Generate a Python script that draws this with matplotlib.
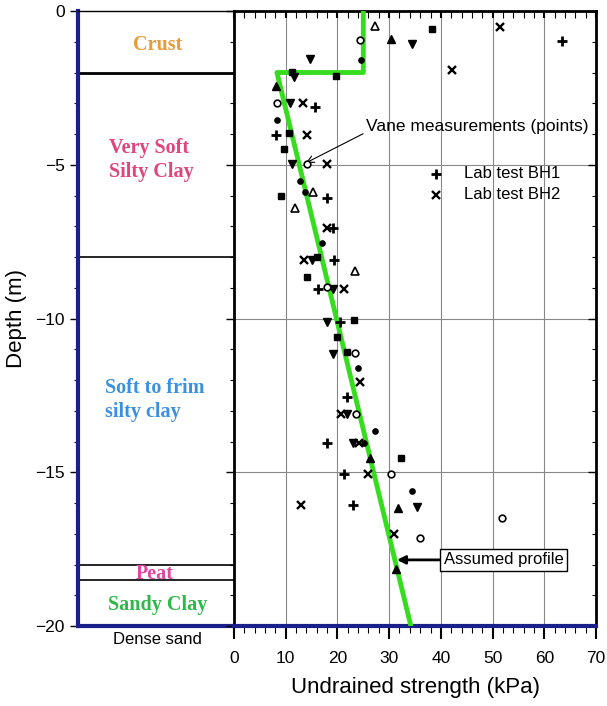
import matplotlib
matplotlib.use("Agg")
import matplotlib.pyplot as plt
from matplotlib.ticker import MultipleLocator

plt.rcParams['font.family'] = ['Liberation Sans', 'DejaVu Sans']

# assumed strength profile (kPa, depth m)
profile_su = [25, 25, 8.3, 34.2]
profile_z = [0, -2, -2, -20]

# lab tests
bh1_su = [63.4, 15.7, 8.1, 17.9, 19.2, 19.4, 16.3, 20.5, 21.9, 17.9, 21.3, 23.0]
bh1_z = [-0.99, -3.13, -4.03, -6.09, -7.06, -8.1, -9.05, -10.1, -12.56, -14.06, -15.07, -16.07]
bh2_su = [51.5, 42.2, 13.3, 14.2, 17.9, 18.0, 13.5, 21.3, 24.4, 20.7, 24.2, 25.9, 12.9, 31.0]
bh2_z = [-0.51, -1.93, -2.98, -4.03, -4.99, -7.05, -8.1, -9.05, -12.07, -13.1, -14.06, -15.07, -16.07, -17.02]

# vane measurements, by symbol
tri_up_su = [30.4, 8.1, 31.7, 31.3, 26.3]
tri_up_z = [-0.91, -2.44, -16.15, -18.16, -14.55]
tri_open_su = [27.2, 15.2, 11.7, 23.4]
tri_open_z = [-0.49, -5.89, -6.4, -8.44]
tri_dn_su = [34.4, 14.7, 11.6, 10.8, 11.2, 15.0, 19.2, 17.9, 19.2, 21.9, 23.1, 35.3]
tri_dn_z = [-1.08, -1.56, -2.15, -3.0, -4.99, -8.1, -9.05, -10.1, -11.16, -13.1, -14.06, -16.13]
circ_open_su = [24.4, 8.4, 14.1, 17.9, 23.4, 23.6, 30.4, 51.8, 36.0]
circ_open_z = [-0.94, -2.98, -4.97, -8.97, -11.12, -13.1, -15.07, -16.48, -17.15]
dot_su = [24.5, 8.4, 12.8, 13.7, 17.0, 24.0, 27.3, 25.1, 34.4]
dot_z = [-1.59, -3.54, -5.52, -5.9, -7.56, -11.6, -13.65, -14.06, -15.6]
sq_su = [38.2, 11.2, 19.7, 10.7, 9.7, 9.0, 16.1, 14.2, 23.2, 20.0, 21.8, 32.2]
sq_z = [-0.59, -1.97, -2.1, -3.96, -4.49, -6.0, -7.99, -8.66, -10.05, -10.59, -11.08, -14.55]

# soil layers
layer_bounds = [-2, -8, -18, -18.5]
layer_names = ["Crust", "Very Soft\nSilty Clay", "Soft to frim\nsilty clay", "Peat", "Sandy Clay"]
layer_mid = [-1.1, -4.85, -12.65, -18.3, -19.32]
layer_x = [0.51, 0.47, 0.49, 0.49, 0.51]
layer_colors = ["#E99A3B", "#E0457C", "#3C90E2", "#E0489C", "#2FB84A"]

navy = "#1a1f8c"
fig = plt.figure(figsize=(6.07, 7.06), dpi=100)
axL = fig.add_axes([0.1285, 0.1133, 0.257, 0.8711])
ax = fig.add_axes([0.3855, 0.1133, 0.5964, 0.8711], sharey=axL)

# ---- soil column ----
axL.set_xlim(0, 1)
axL.set_ylim(-20, 0)
for i, yb in enumerate(layer_bounds):
    axL.axhline(yb, color="black", lw=2.0 if i == 0 else 1.2)
for name, xm, ym, c in zip(layer_names, layer_x, layer_mid, layer_colors):
    axL.text(xm, ym, name, color=c, fontsize=14.5, fontweight="bold",
             family="Liberation Serif", ha="center", va="center",
             multialignment="left", linespacing=1.25)
axL.text(0.51, -20.45, "Dense sand", ha="center", va="center", fontsize=12)
axL.set_xticks([])
axL.spines["left"].set_color(navy)
axL.spines["left"].set_linewidth(3)
axL.spines["bottom"].set_color(navy)
axL.spines["bottom"].set_linewidth(3)
axL.spines["right"].set_visible(False)
axL.spines["top"].set_linewidth(1)
axL.yaxis.set_major_locator(MultipleLocator(5))
axL.yaxis.set_minor_locator(MultipleLocator(1))
axL.tick_params(axis="y", which="major", length=6, width=1, labelsize=12.5)
axL.tick_params(axis="y", which="minor", length=3, width=0.8)
axL.set_ylabel("Depth (m)", fontsize=16, labelpad=6)

# ---- strength plot ----
ax.set_xlim(0, 70)
ax.grid(True, color="#888888", lw=0.8)
ax.set_axisbelow(True)
ax.plot(profile_su, profile_z, color="#36DD1E", lw=3.5, zorder=3)

ms = 5.5
ax.plot(bh1_su, bh1_z, "+", color="black", ms=6.5, mew=2, ls="none", zorder=4)
ax.plot(bh2_su, bh2_z, "x", color="black", ms=ms, mew=1.7, ls="none", zorder=4)
ax.plot(tri_up_su, tri_up_z, "^", color="black", ms=ms, ls="none", zorder=4)
ax.plot(tri_open_su, tri_open_z, "^", mfc="white", mec="black", mew=1.2, ms=ms, ls="none", zorder=4)
ax.plot(tri_dn_su, tri_dn_z, "v", color="black", ms=ms, ls="none", zorder=4)
ax.plot(circ_open_su, circ_open_z, "o", mfc="white", mec="black", mew=1.2, ms=4.8, ls="none", zorder=4)
ax.plot(dot_su, dot_z, "o", color="black", ms=3.8, ls="none", zorder=4)
ax.plot(sq_su, sq_z, "s", color="black", ms=4.5, ls="none", zorder=4)

# legend for lab tests
ax.plot([39.1], [-5.3], "+", color="black", ms=6.5, mew=2)
ax.text(44.5, -5.3, "Lab test BH1", va="center", fontsize=12)
ax.plot([39.1], [-5.98], "x", color="black", ms=ms, mew=1.7)
ax.text(44.5, -5.98, "Lab test BH2", va="center", fontsize=12)

ax.annotate("Vane measurements (points)", xy=(13.9, -4.94), xytext=(25.5, -3.75),
            fontsize=12.5, va="center",
            arrowprops=dict(arrowstyle="->", color="black", lw=0.8,
                            shrinkA=0, shrinkB=0, relpos=(0.0, 0.1)))
ax.annotate("Assumed profile", xy=(31.5, -17.85), xytext=(40.6, -17.85),
            fontsize=12, va="center",
            bbox=dict(boxstyle="square,pad=0.22", fc="white", ec="black", lw=1),
            arrowprops=dict(arrowstyle="-|>", color="black", lw=2, mutation_scale=12,
                            shrinkA=0, shrinkB=0))

for s in ["top", "right", "left"]:
    ax.spines[s].set_linewidth(2)
ax.spines["bottom"].set_color(navy)
ax.spines["bottom"].set_linewidth(3)

ax.xaxis.set_major_locator(MultipleLocator(10))
ax.xaxis.set_minor_locator(MultipleLocator(2))
ax.tick_params(axis="x", which="major", length=9, width=1.5, labelsize=12.5, top=True,
               direction="out", pad=9)
ax.tick_params(axis="x", which="minor", length=5, width=0.8, top=True, direction="out")
ax.tick_params(axis="y", which="major", length=6, width=1, right=True, labelleft=False)
ax.tick_params(axis="y", which="minor", length=3, width=0.8, right=True)
# ticks on top/right go inward
for t in ax.xaxis.get_major_ticks() + ax.xaxis.get_minor_ticks():
    t.tick2line.set_marker(3)
    t.tick2line.set_markersize(5)
for t in ax.yaxis.get_major_ticks() + ax.yaxis.get_minor_ticks():
    t.tick2line.set_marker(0)
ax.set_ylim(-20, 0)
ax.set_xlabel("Undrained strength (kPa)", fontsize=16, labelpad=8)

fig.savefig("out.png", dpi=100)
